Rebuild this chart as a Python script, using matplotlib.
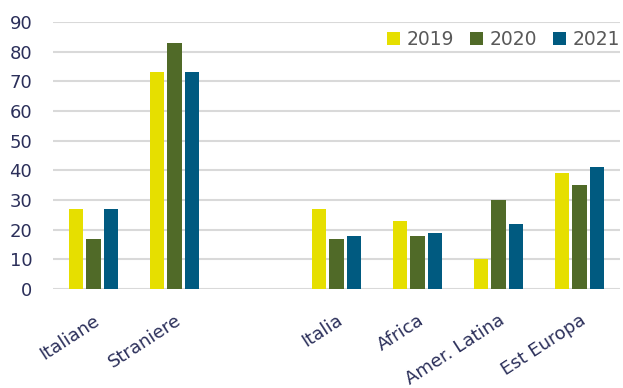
import matplotlib.pyplot as plt
import numpy as np

# dati
categorie = ['Italiane', 'Straniere', '', 'Italia', 'Africa', 'Amer. Latina', 'Est Europa']
anni = ['2019', '2020', '2021']
v2019 = [27, 73, np.nan, 27, 23, 10, 39]
v2020 = [17, 83, np.nan, 17, 18, 30, 35]
v2021 = [27, 73, np.nan, 18, 19, 22, 41]
colori = ['#E6DF00', '#506A28', '#005A80']

plt.rcParams['font.family'] = ['DejaVu Sans']

fig = plt.figure(figsize=(6.23, 3.88), dpi=100)
ax = fig.add_axes([53 / 623, 1 - 289 / 388, 567 / 623, 267 / 388])

x = np.arange(len(categorie))
w = 0.175
passo = 0.22
for i, (serie, col, anno) in enumerate(zip([v2019, v2020, v2021], colori, anni)):
    ax.bar(x + (i - 1) * passo, serie, width=w, color=col, label=anno, zorder=3)

ax.set_xlim(-0.5, len(categorie) - 0.5)
ax.set_ylim(0, 90)
ax.set_yticks(range(0, 91, 10))
ax.yaxis.grid(True, color='#D9D9D9', linewidth=1.5, zorder=0)
ax.set_xticks(x)
ax.set_xticklabels(categorie, rotation=33, ha='right', va='top', rotation_mode='anchor',
                   fontsize=13)
ax.tick_params(axis='both', length=0, colors='#2B2F5A')
ax.tick_params(axis='y', pad=15, labelsize=13)
ax.tick_params(axis='x', pad=16)
for s in ax.spines.values():
    s.set_visible(False)

ax.legend(loc='upper right', ncol=3, frameon=False, fontsize=13.5, handlelength=0.7,
          handleheight=0.7, handletextpad=0.35, columnspacing=0.85, labelcolor='#595959',
          borderaxespad=0, borderpad=0, bbox_to_anchor=(1.0, 0.97))

fig.savefig('out.png', dpi=100)
